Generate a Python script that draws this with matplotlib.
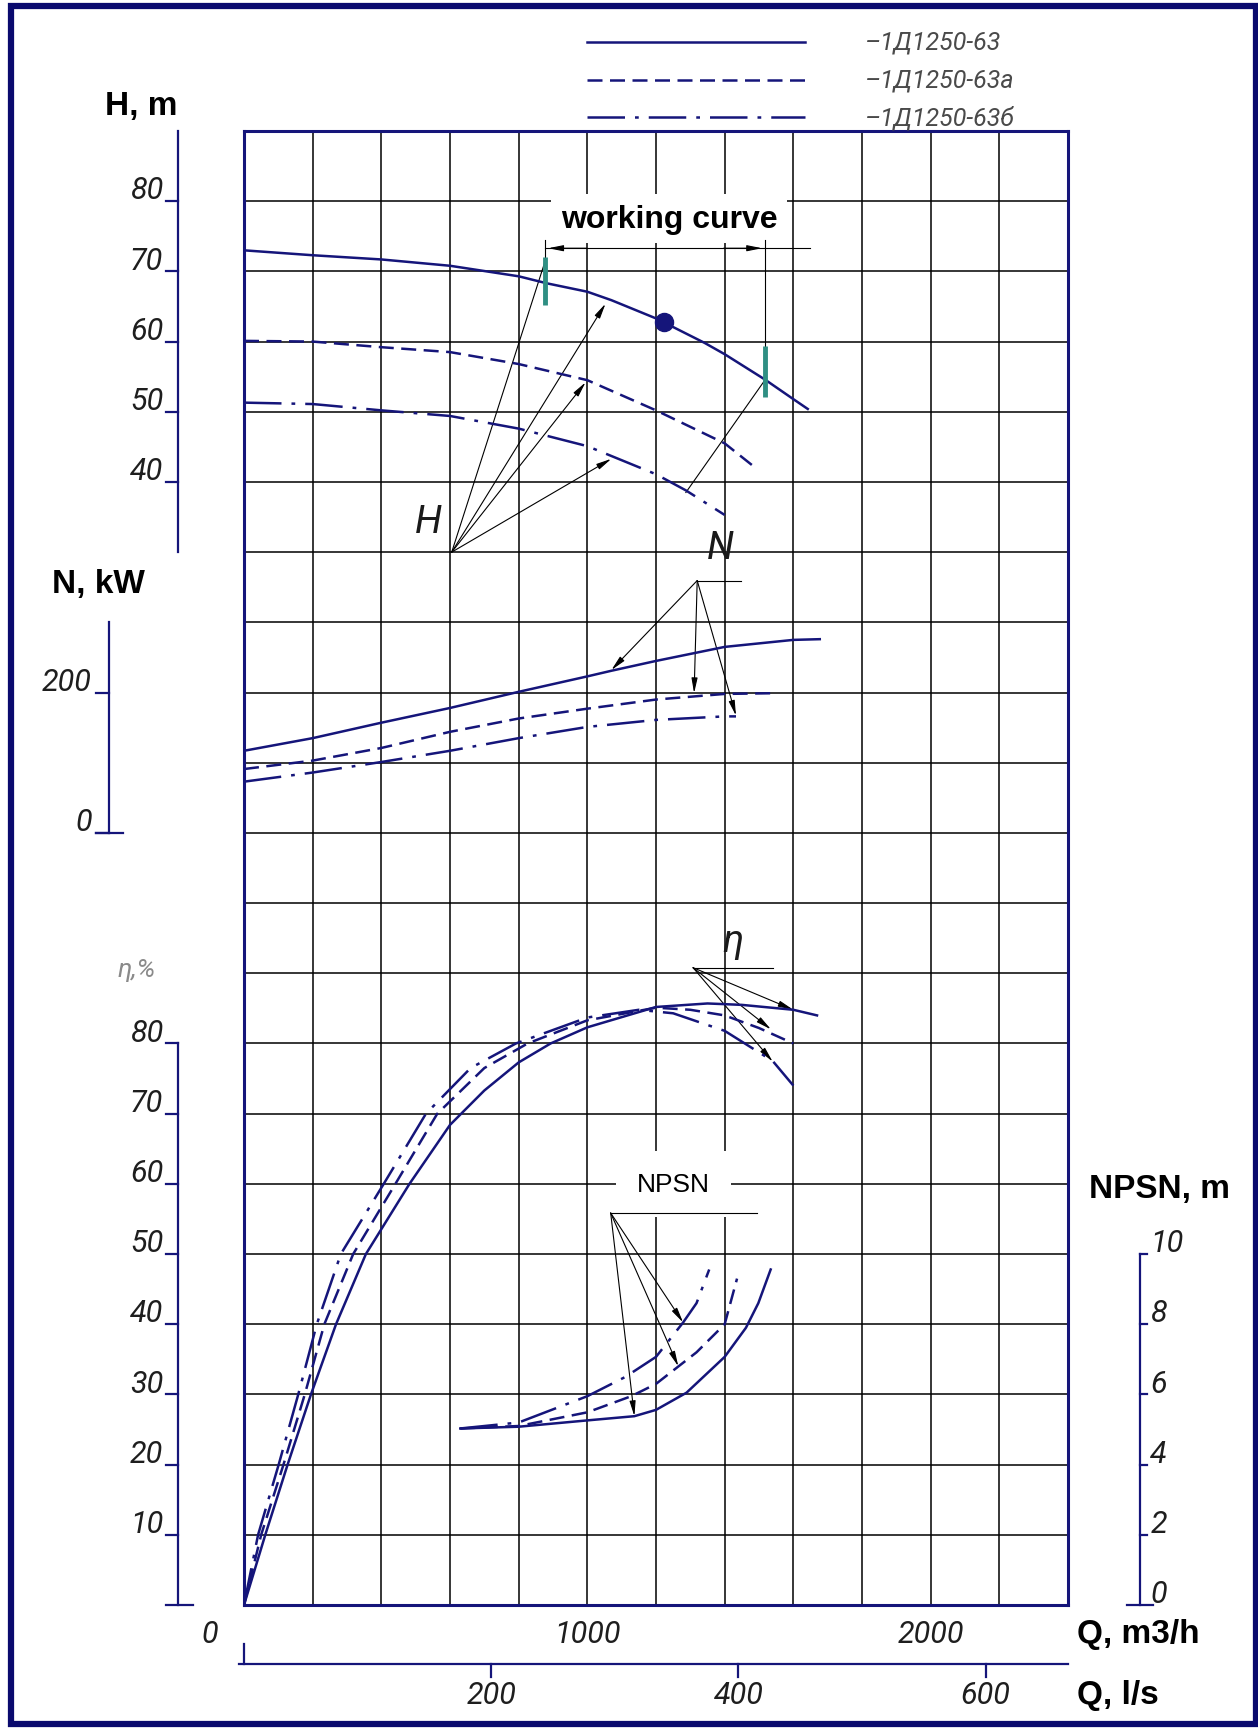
import numpy as np
import matplotlib.pyplot as plt
from matplotlib.patches import Rectangle

NAVY = '#15157a'
TEAL = '#2f8f83'
GOST = ['Liberation Sans Narrow', 'Roboto', 'DejaVu Sans']

# Q, m3/h  ->  H, m
q_H1 = [0, 200, 400, 600, 800, 882, 1000, 1070, 1200, 1342, 1400, 1517, 1600, 1642]
H_1 = [73.0, 72.3, 71.7, 70.8, 69.3, 68.3, 67.1, 65.9, 63.3, 59.8, 58.2, 54.6, 51.8, 50.4]
q_Ha = [0, 200, 400, 600, 800, 1000, 1200, 1400, 1490]
H_a = [60.1, 60.0, 59.2, 58.5, 56.8, 54.5, 50.2, 45.5, 42.0]
q_Hb = [0, 200, 400, 600, 800, 1000, 1070, 1200, 1287, 1400]
H_b = [51.3, 51.1, 50.2, 49.4, 47.6, 45.1, 43.7, 41.1, 38.8, 35.3]

# Q -> N, kW
q_N1 = [0, 200, 400, 600, 800, 1000, 1070, 1200, 1400, 1600, 1677]
N_1 = [117, 135, 157, 178, 201, 223, 231, 245, 265, 275, 276]
q_Na = [0, 200, 400, 600, 800, 1000, 1200, 1400, 1540]
N_a = [91, 103, 121, 144, 163, 177, 190, 198, 199]
q_Nb = [0, 200, 400, 600, 800, 1000, 1200, 1400, 1433]
N_b = [73, 86, 101, 117, 135, 151, 161, 166, 166]

# Q -> eta, %
q_E1 = [0, 62, 127, 195, 268, 355, 482, 600, 700, 800, 893, 1000, 1200, 1350, 1450, 1600, 1669]
E_1 = [0, 10, 20, 30, 40, 50, 60, 68.4, 73.3, 77.3, 80, 82.3, 85.2, 85.7, 85.5, 84.8, 84.0]
q_Ea = [0, 50, 115, 177, 234, 318, 441, 563, 700, 826, 1000, 1200, 1300, 1400, 1500, 1600]
E_a = [0, 10, 20, 30, 40, 50, 60, 70, 76.5, 80, 83.3, 85.1, 84.8, 84.0, 82.2, 80.0]
q_Eb = [0, 41, 101, 158, 212, 282, 407, 530, 660, 792, 1000, 1150, 1250, 1400, 1540, 1600]
E_b = [0, 10, 20, 30, 40, 50, 60, 70, 76.5, 80, 83.7, 84.8, 84.3, 81.8, 77.5, 74.0]

# Q -> NPSH, m
q_P1 = [630, 800, 1000, 1137, 1200, 1289, 1400, 1462, 1498, 1534]
P_1 = [5.03, 5.08, 5.26, 5.38, 5.56, 6.05, 7.07, 7.9, 8.6, 9.56]
q_Pa = [630, 800, 1000, 1128, 1200, 1318, 1400, 1436]
P_a = [5.03, 5.1, 5.49, 5.95, 6.3, 7.2, 8.0, 9.3]
q_Pb = [630, 800, 1000, 1111, 1200, 1279, 1318, 1355]
P_b = [5.03, 5.2, 5.95, 6.5, 7.07, 8.05, 8.6, 9.56]

H_ticks = [40, 50, 60, 70, 80]
N_ticks = [0, 200]
E_ticks = [10, 20, 30, 40, 50, 60, 70, 80]
P_ticks = [2, 4, 6, 8, 10]
Q_ticks = [1000, 2000]
Qls_ticks = [200, 400, 600]
names = ['–1Д1250-63', '–1Д1250-63а', '–1Д1250-63б']

op_q, op_H = 1224, 62.8          # operating point
work_q = [878, 1517]             # working range limits


def yH(v): return 12 + np.asarray(v) / 10
def yN(v): return 11 + np.asarray(v) / 100
def yE(v): return np.asarray(v) / 10
def yP(v): return np.asarray(v) / 2


fig = plt.figure(figsize=(12.58, 17.31), dpi=100)
ax = fig.add_axes([244 / 1258, 1 - 1606 / 1731, 824 / 1258, 1474 / 1731])
ax.set_xlim(0, 2400)
ax.set_ylim(0, 21)
ax.set_xticks(np.arange(0, 2401, 200))
ax.set_yticks(np.arange(0, 22, 1))
ax.set_axisbelow(True)
ax.grid(True, color='black', lw=1.1)
ax.tick_params(length=0, labelbottom=False, labelleft=False)
for s in ax.spines.values():
    s.set_color(NAVY)
    s.set_linewidth(2.2)

ls_a = (0, (6, 3))
ls_b = (0, (15, 4, 1.5, 4))
ck = dict(color=NAVY, lw=1.8, zorder=5)
# H
ax.plot(q_H1, yH(H_1), ls='-', **ck)
ax.plot(q_Ha, yH(H_a), ls=ls_a, **ck)
ax.plot(q_Hb, yH(H_b), ls=ls_b, **ck)
# N
ax.plot(q_N1, yN(N_1), ls='-', **ck)
ax.plot(q_Na, yN(N_a), ls=ls_a, **ck)
ax.plot(q_Nb, yN(N_b), ls=ls_b, **ck)
# eta
ax.plot(q_E1, yE(E_1), ls='-', **ck)
ax.plot(q_Ea, yE(E_a), ls=ls_a, **ck)
ax.plot(q_Eb, yE(E_b), ls=ls_b, **ck)
# NPSH
ax.plot(q_P1, yP(P_1), ls='-', **ck)
ax.plot(q_Pa, yP(P_a), ls=ls_a, **ck)
ax.plot(q_Pb, yP(P_b), ls=ls_b, **ck)

ax.plot(op_q, yH(op_H), 'o', color=NAVY, ms=13, zorder=6)

# working range
ax.plot([work_q[0]] * 2, yH([65.2, 72.1]), color=TEAL, lw=3.5, zorder=6, solid_capstyle='butt')
ax.plot([work_q[1]] * 2, yH([52.1, 59.4]), color=TEAL, lw=3.5, zorder=6, solid_capstyle='butt')
thin = dict(color='black', lw=0.8, zorder=4)
ax.plot([work_q[0]] * 2, yH([72.1, 74.5]), **thin)
ax.plot([work_q[1]] * 2, yH([59.4, 74.5]), **thin)
ax.plot([work_q[0], 1648], yH([73.3, 73.3]), **thin)
arr = dict(arrowstyle='-|>,head_length=0.9,head_width=0.18', color='black', lw=0.8,
           shrinkA=0, shrinkB=0)
ax.annotate('', xy=(work_q[0] + 8, yH(73.3)), xytext=(work_q[0] + 120, yH(73.3)), arrowprops=arr, zorder=4)
ax.annotate('', xy=(work_q[1] - 8, yH(73.3)), xytext=(work_q[1] - 120, yH(73.3)), arrowprops=arr, zorder=4)
ax.text(1238, yH(77.5), 'working curve', ha='center', va='center', fontsize=23,
        fontweight='bold', family='Liberation Sans', zorder=3,
        bbox=dict(boxstyle='square,pad=0.3', fc='white', ec='none'))

# leader lines
lab = dict(style='italic', fontsize=28, family=GOST, color='#1a1a1a')
hx, hy = 605, 15.0
ax.text(536, 15.44, 'H', ha='center', va='center', **lab)
ax.plot([hx, 878], [hy, yH(71.6)], **thin)
for tq, th in [(1053, 65.4), (995, 54.2), (1070, 43.3)]:
    ax.annotate('', xy=(tq, yH(th)), xytext=(hx, hy), arrowprops=arr, zorder=4)
ax.plot([1517, 1287], yH([54.5, 38.5]), **thin)

nx, ny = 1320, yN(359.5)
ax.text(1387, 15.06, 'N', ha='center', va='center', **lab)
ax.plot([nx, 1448], [ny, ny], **thin)
for tq, tn in [(1070, 232), (1311, 199), (1433, 167)]:
    ax.annotate('', xy=(tq, yN(tn)), xytext=(nx, ny), arrowprops=arr, zorder=4)

ex, ey = 1308, 9.08
ax.text(1424, 9.46, 'η', ha='center', va='center', **lab)
ax.plot([ex, 1540], [ey, ey], **thin)
for tq, te in [(1600, 84.8), (1535, 82.0), (1540, 77.4)]:
    ax.annotate('', xy=(tq, yE(te)), xytext=(ex, ey), arrowprops=arr, zorder=4)

px, py = 1068, yP(11.17)
ax.text(1250, 6.0, 'NPSN', ha='center', va='center', fontsize=19, family='Liberation Sans',
        zorder=3, bbox=dict(boxstyle='square,pad=0.8', fc='white', ec='none'))
ax.plot([px, 1493], [py, py], **thin)
for tq, tp in [(1279, 8.05), (1265, 6.8), (1137, 5.38)]:
    ax.annotate('', xy=(tq, yP(tp)), xytext=(px, py), arrowprops=arr, zorder=4)

# legend
for y, ls, name in zip([22.27, 21.73, 21.2], ['-', ls_a, ls_b], names):
    ax.plot([999, 1634], [y, y], ls=ls, color=NAVY, lw=1.8, clip_on=False)
    ax.text(1809, y, name, ha='left', va='center', style='italic', fontsize=18,
            family=GOST, color='#4a4a4a')

# scales
tk = dict(style='italic', fontsize=22, family=GOST, color='#1e1e1e')
ak = dict(color=NAVY, lw=1.6, clip_on=False)
bold = dict(fontsize=24, fontweight='bold', family='Liberation Sans', color='black')

ax.plot([-192, -192], [15, 21], **ak)
for h in H_ticks:
    ax.plot([-227, -192], [yH(h)] * 2, **ak)
    ax.text(-235, yH(h) + 0.04, str(h), ha='right', va='baseline', **tk)
ax.text(-298, 21.37, 'H, m', ha='center', va='center', **bold)

ax.plot([-393, -393], [11, 14], **ak)
ax.plot([-431, -352], [11, 11], **ak)
for n in N_ticks:
    ax.plot([-431, -393], [yN(n)] * 2, **ak)
    ax.text(-443, yN(n) + 0.04, str(n), ha='right', va='baseline', **tk)
ax.text(-425, 14.55, 'N, kW', ha='center', va='center', **bold)

ax.plot([-192, -192], [0, 8], **ak)
ax.plot([-227, -149], [0, 0], **ak)
for e in E_ticks:
    ax.plot([-227, -192], [yE(e)] * 2, **ak)
    ax.text(-235, yE(e) + 0.04, str(e), ha='right', va='baseline', **tk)
ax.text(-312, 9.06, 'η,%', ha='center', va='center', style='italic', fontsize=19,
        family=GOST, color='#8a8a8a')

ax.plot([2610, 2610], [0, 5], **ak)
ax.plot([2572, 2648], [0, 0], **ak)
ax.text(2640, 0.04, '0', ha='left', va='baseline', **tk)
for p in P_ticks:
    ax.plot([2610, 2630], [yP(p)] * 2, **ak)
    ax.text(2640, yP(p) + 0.04, str(p), ha='left', va='baseline', **tk)
ax.text(2462, 5.93, 'NPSN, m', ha='left', va='center', **bold)

ax.text(-99, -0.4, '0', ha='center', va='center', **tk)
for q in Q_ticks:
    ax.text(q, -0.4, str(q), ha='center', va='center', **tk)
ax.text(2425, -0.4, 'Q, m3/h', ha='left', va='center', **bold)

ax.plot([-15, 2400], [-0.84, -0.84], **ak)
ax.plot([0, 0], [-0.55, -0.84], **ak)
for v in Qls_ticks:
    ax.plot([v * 3.6] * 2, [-0.84, -1.02], **ak)
    ax.text(v * 3.6, -1.28, str(v), ha='center', va='center', **tk)
ax.text(2425, -1.28, 'Q, l/s', ha='left', va='center', **bold)

fig.patches.append(Rectangle((11 / 1258, 6 / 1731), 1245 / 1258, 1718 / 1731,
                             transform=fig.transFigure, fill=False, ec='#0a0a6e', lw=4.5))

fig.savefig('out.png', dpi=100, facecolor='white')
